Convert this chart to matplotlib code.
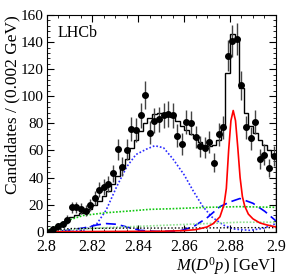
import numpy as np
import matplotlib
matplotlib.use("Agg")
import matplotlib.pyplot as plt
from matplotlib.ticker import MultipleLocator

plt.rcParams['font.family'] = ['Liberation Serif']
plt.rcParams['mathtext.fontset'] = 'custom'
plt.rcParams['mathtext.rm'] = 'Liberation Serif'
plt.rcParams['mathtext.it'] = 'Liberation Serif:italic'

# ---- data ----
bin_edges = np.round(np.arange(2.800, 2.9001, 0.002), 4)
bin_centers = (bin_edges[:-1] + bin_edges[1:]) / 2
counts = [0, 2, 4, 5.5, 9, 18, 18, 17, 15.5, 20,
          25, 31, 33, 35, 43, 61, 48, 60.5, 76, 75,
          86, 101, 73, 82, 83, 86, 87, 86, 71, 65,
          81, 80, 70, 63, 62, 66, 51, 72, 77, 130,
          141, 142.5, 108, 77, 69, 81, 54, 57, 47, 56]
fit_total = [0.5, 2.5, 4.5, 6.5, 8.5, 10.5, 12, 13.5, 15, 17,
             19.5, 22.5, 26, 30, 35, 41, 47, 54, 62, 68,
             74, 80, 84, 87, 88, 88, 87, 85, 82, 78,
             75, 72, 69, 66, 64, 63, 64, 68, 79, 117,
             146, 143, 106, 88, 78, 73, 68, 64, 60, 56]

# component curves
broad_x = [2.800, 2.810, 2.816, 2.822, 2.826, 2.8305, 2.835, 2.839, 2.8436, 2.8472,
           2.851, 2.855, 2.860, 2.864, 2.868, 2.872, 2.877, 2.8814, 2.8887, 2.8945, 2.900]
broad_y = [0, 0.2, 1, 6, 16, 33, 48, 57, 61, 63.5,
           62, 54, 42, 30, 19, 11, 5, 2, 1, 2.5, 6]

dash_x = [2.800, 2.808, 2.816, 2.822, 2.826, 2.8305, 2.835, 2.8407, 2.848, 2.858,
          2.864, 2.8698, 2.8756, 2.880, 2.8843, 2.890, 2.8952, 2.900]
dash_y = [0, 0.8, 2.7, 5, 6, 5.5, 3.5, 1, 0.2, 0.5,
          3.7, 10, 18.5, 22, 24.5, 21, 15, 8]

green_x = [2.800, 2.8014, 2.8087, 2.816, 2.826, 2.8378, 2.845, 2.855, 2.870, 2.8843, 2.900]
green_y = [0, 1.8, 8, 12, 14, 15.5, 16.5, 17, 18, 18.5, 18]

lgreen_x = [2.800, 2.810, 2.820, 2.830, 2.841, 2.855, 2.870, 2.884, 2.900]
lgreen_y = [0, 1.5, 2.5, 3.3, 4, 5, 6, 7, 7]

black_x = [2.800, 2.805, 2.810, 2.830, 2.850, 2.870, 2.890, 2.900]
black_y = [0, 1.5, 2.3, 2.6, 2.7, 2.8, 3, 3]

sig_x = [2.800, 2.850, 2.860, 2.865, 2.870, 2.8727, 2.8756, 2.8774, 2.8784, 2.8794,
         2.8804, 2.8814, 2.8824, 2.8834, 2.8844, 2.8854, 2.8864, 2.888, 2.890,
         2.893, 2.896, 2.900]
sig_y = [0, 0.3, 0.8, 1.5, 3.5, 6, 11, 20, 32, 60,
         82, 89.5, 82, 62, 40, 26, 19, 13, 9.5,
         6.5, 5, 3.5]

x_ticks = [2.80, 2.82, 2.84, 2.86, 2.88, 2.90]
x_ticklabels = ['2.8', '2.82', '2.84', '2.86', '2.88', '2.9']
y_ticks = [0, 20, 40, 60, 80, 100, 120, 140, 160]

# ---- plot ----
fig = plt.figure(figsize=(2.91, 2.76), dpi=100)
ax = fig.add_axes([0.160, 0.1605, 0.788, 0.785])

ax.plot(broad_x, broad_y, color='#2a2aff', ls=(0, (1, 1.2)), lw=1.2)
ax.plot(dash_x, dash_y, color='#0000ff', ls=(0, (6, 3)), lw=1.2)
ax.plot(green_x, green_y, color='#10c810', ls=(0, (1, 1)), lw=1.2)
ax.plot(lgreen_x, lgreen_y, color='#90e090', ls=(0, (1, 1)), lw=1.2)
ax.plot(black_x, black_y, color='black', ls=(0, (1, 1.5)), lw=1.0)
ax.plot(sig_x, sig_y, color='red', lw=1.2)

ax.stairs(fit_total, bin_edges, color='black', lw=1.0)

counts = np.array(counts, dtype=float)
ax.errorbar(bin_centers, counts, yerr=np.sqrt(counts), fmt='o', color='black',
            ecolor='#444444', elinewidth=1.0, markersize=4, capsize=0)

ax.set_xlim(2.8, 2.9)
ax.set_ylim(0, 160)
ax.set_xticks(x_ticks)
ax.set_xticklabels(x_ticklabels)
ax.set_yticks(y_ticks)
ax.xaxis.set_minor_locator(MultipleLocator(0.005))
ax.yaxis.set_minor_locator(MultipleLocator(4))
ax.tick_params(which='both', direction='in', top=True, right=True)
ax.tick_params(axis='x', pad=5, labelsize=11.5)
ax.tick_params(axis='y', pad=2, labelsize=11)
ax.tick_params(which='major', length=5)
ax.tick_params(which='minor', length=2.5)

ax.set_ylabel('Candidates / (0.002 GeV)', fontsize=12.5)
ax.yaxis.set_label_coords(-0.115, 1.0)
ax.yaxis.label.set_horizontalalignment('right')
ax.set_xlabel(r'$M(D^{0}p)$ [GeV]', fontsize=12)
ax.xaxis.set_label_coords(1.0, -0.108)
ax.xaxis.label.set_horizontalalignment('right')

ax.text(2.805, 147, 'LHCb', fontsize=11.5, va='center', ha='left')

fig.savefig('out.png', dpi=100)
